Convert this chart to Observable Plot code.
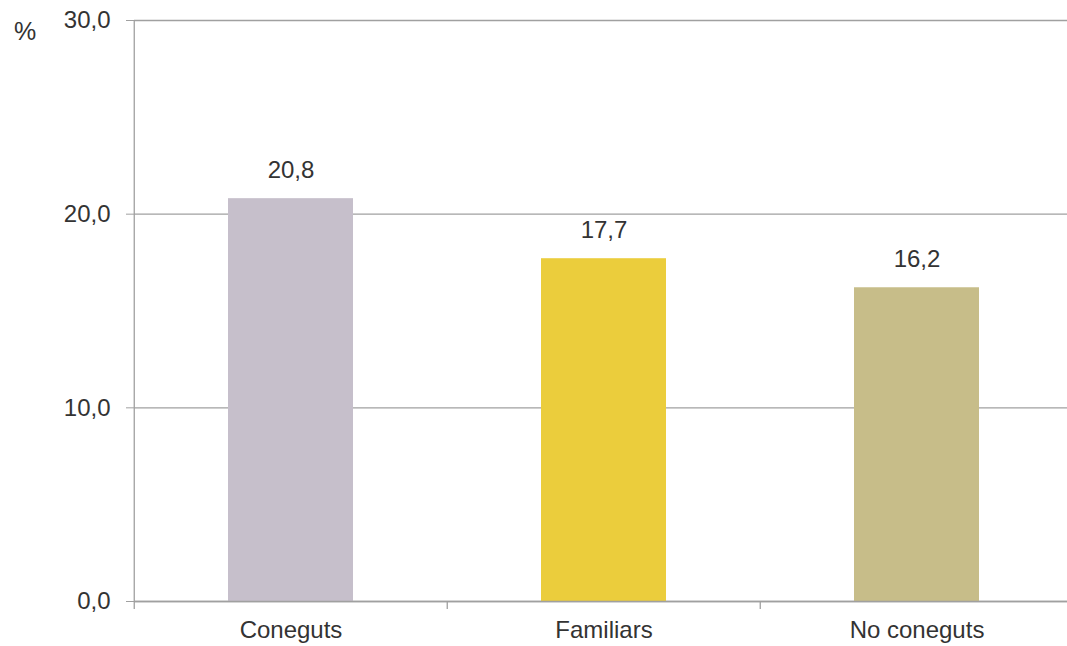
<!DOCTYPE html>
<html><head><meta charset="utf-8">
<script src="https://cdn.jsdelivr.net/npm/d3@7"></script>
<script src="https://cdn.jsdelivr.net/npm/@observablehq/plot@0.6"></script>
<style>
body{margin:0;background:#fff;overflow:hidden;}
#chart{position:relative;width:1067px;height:646px;overflow:hidden;}
.unit{position:absolute;left:14px;top:17px;font:25px "Liberation Sans",Arial,sans-serif;color:#333;}
</style>
</head><body><div id="chart"><div class="unit">%</div></div>
<script>
const categories = ["Coneguts", "Familiars", "No coneguts"];
const values = [20.8, 17.7, 16.2];
const colors = ["#c6bfcb", "#ebcd3c", "#c7bd89"];
const yTicks = [0, 10, 20, 30];

const data = categories.map((c, i) => ({cat: c, value: values[i], color: colors[i]}));
const fmt = d => d.toFixed(1).replace(".", ",");
const font = '"Liberation Sans", Arial, sans-serif';
const lineColor = "#a0a0a0";

// axis line + category boundary ticks drawn through the scales
function frameMarks(index, scales, values, dims) {
  const x = scales.x, y = scales.y;
  const bw = x.bandwidth();
  const half = bw * 0.75; // half the padding gap (0.3 step) around each band
  const g = d3.create("svg:g").attr("stroke", lineColor).attr("stroke-width", 1.3);
  const y0 = y(0), y1 = y(30);
  const left = x(categories[0]) - half;
  g.append("line").attr("x1", left).attr("x2", left).attr("y1", y0).attr("y2", y1);
  const bounds = categories.map(c => x(c) - half).concat([x(categories[categories.length - 1]) + bw + half]);
  for (const b of bounds) {
    g.append("line").attr("x1", b).attr("x2", b).attr("y1", y0).attr("y2", y0 + 8);
  }
  return g.node();
}

const chart = Plot.plot({
  width: 1067,
  height: 646,
  marginLeft: 134,
  marginRight: -6,
  marginTop: 20,
  marginBottom: 45,
  style: {fontFamily: font, fontSize: "24px", color: "#333", background: "#fff", overflow: "hidden"},
  x: {domain: categories, paddingInner: 0.6, paddingOuter: 0.3, label: null},
  y: {domain: [0, 30], label: null},
  color: {type: "identity"},
  marks: [
    Plot.ruleY(yTicks, {y: d => d, stroke: lineColor, strokeWidth: 1.3}),
    Plot.barY(data, {x: "cat", y: "value", fill: "color"}),
    Plot.ruleY([0], {stroke: lineColor, strokeWidth: 1.3}),
    frameMarks,
    Plot.axisY(yTicks, {tickSize: 8, tickPadding: 16, tickFormat: fmt, stroke: lineColor, fill: "#333", fontSize: 24}),
    Plot.axisX({tickSize: 0, tickPadding: 19, fill: "#333", fontSize: 24}),
    Plot.text(data, {x: "cat", y: "value", text: d => fmt(d.value), dy: -21, lineAnchor: "bottom", fill: "#333", fontSize: 24})
  ]
});
document.getElementById("chart").appendChild(chart);
</script>
</body></html>
